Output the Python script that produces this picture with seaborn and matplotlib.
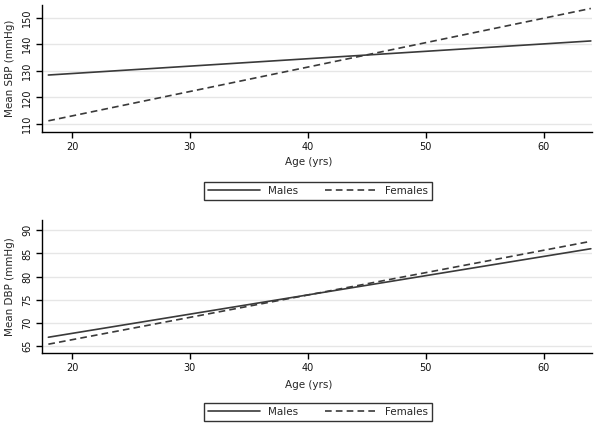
import pandas as pd
import matplotlib
matplotlib.use('Agg')
import matplotlib.pyplot as plt
import seaborn as sns

# Data (straight fitted lines, endpoints at age 18 and 64)
ages = [18, 64]
sbp_males = [128.4, 141.2]
sbp_females = [111.2, 153.4]
dbp_males = [66.9, 86.0]
dbp_females = [65.4, 87.6]

sbp = pd.DataFrame({'Age': ages * 2, 'Value': sbp_males + sbp_females,
                    'Sex': ['Males'] * 2 + ['Females'] * 2})
dbp = pd.DataFrame({'Age': ages * 2, 'Value': dbp_males + dbp_females,
                    'Sex': ['Males'] * 2 + ['Females'] * 2})

sns.set_style('white')
plt.rcParams['font.family'] = ['DejaVu Sans']
plt.rcParams['font.size'] = 7

fig = plt.figure(figsize=(6, 4.24), dpi=100)
ax1 = fig.add_axes([0.07, 1 - 132 / 424, 0.9167, 127 / 424])
ax2 = fig.add_axes([0.07, 1 - 353 / 424, 0.9167, 133 / 424])

line_color = '#3a3a3a'
dashes = {'Males': '', 'Females': (4, 2.5)}


def panel(ax, df, ylabel, yticks, ylim, legend_y):
    sns.lineplot(data=df, x='Age', y='Value', style='Sex', dashes=dashes,
                 color=line_color, linewidth=1.2, ax=ax, legend=False)
    ax.set_xlim(17.46, 64.1)
    ax.set_ylim(*ylim)
    ax.set_xticks([20, 30, 40, 50, 60])
    ax.set_yticks(yticks)
    ax.set_yticklabels([str(t) for t in yticks], rotation=90, va='center')
    ax.set_xlabel('Age (yrs)', fontsize=7.5, labelpad=6)
    ax.xaxis.set_label_coords(0.485, -0.2)
    ax.set_ylabel(ylabel, fontsize=7.5, labelpad=5)
    ax.grid(axis='y', color='#e6e6e6', linewidth=1)
    ax.grid(axis='x', visible=False)
    for s in ['top', 'right']:
        ax.spines[s].set_visible(False)
    for s in ['left', 'bottom']:
        ax.spines[s].set_color('black')
        ax.spines[s].set_linewidth(1)
    ax.tick_params(axis='both', length=4, width=1, color='black',
                   labelsize=7, pad=3, direction='out', left=True, bottom=True,
                   labelcolor='#111111')
    handles = [plt.Line2D([], [], color=line_color, linewidth=1.2),
               plt.Line2D([], [], color=line_color, linewidth=1.2,
                          dashes=dashes['Females'])]
    leg = fig.legend(handles, ['Males', 'Females'], ncol=2, loc='center',
                     bbox_to_anchor=(0.53, legend_y), fontsize=7.5,
                     frameon=True, fancybox=False, edgecolor='black',
                     handlelength=5, columnspacing=2.5, borderpad=0.4)
    leg.get_frame().set_linewidth(1)


panel(ax1, sbp, 'Mean SBP (mmHg)', [110, 120, 130, 140, 150], (107.0, 154.7), 1 - 191 / 424)
panel(ax2, dbp, 'Mean DBP (mmHg)', [65, 70, 75, 80, 85, 90], (63.5, 92.2), 1 - 411.7 / 424)

fig.savefig('out.png', dpi=100)
